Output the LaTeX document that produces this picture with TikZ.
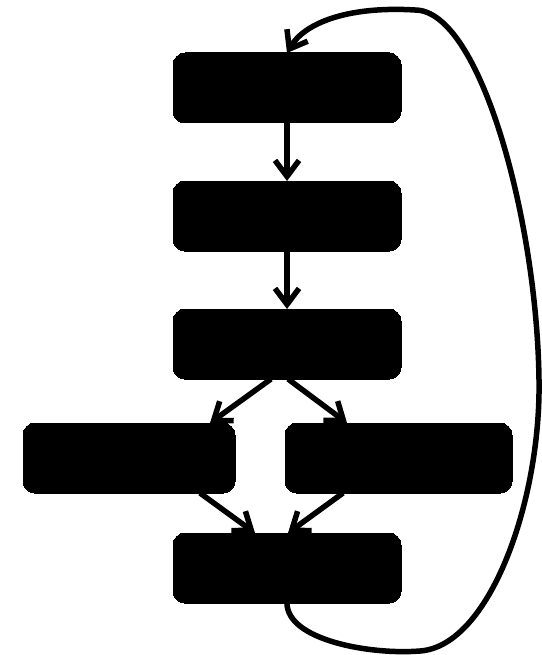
\documentclass[tikz,border=0pt]{standalone}
\usetikzlibrary{arrows.meta}
\begin{document}
\begin{tikzpicture}[x=1pt,y=-1pt,
  box/.style={draw=black,fill=black,rounded corners=12pt,inner sep=0pt,minimum height=70pt,line width=0pt},
  conn/.style={line width=5.5pt,-{Straight Barb[length=16pt,width=24pt,line width=5.5pt]}}]
\useasboundingbox (0,0) rectangle (541,655);
\node[box,minimum width=228pt] (b1) at (287,88) {};
\node[box,minimum width=228pt] (b2) at (287,216) {};
\node[box,minimum width=228pt] (b3) at (287,344) {};
\node[box,minimum width=212pt] (b4) at (129,458) {};
\node[box,minimum width=227pt] (b5) at (398.5,458) {};
\node[box,minimum width=228pt] (b6) at (287,568) {};
\draw[conn] (b1.south) -- (b2.north);
\draw[conn] (b2.south) -- (b3.north);
\draw[conn] ([xshift=-16pt]b3.south) -- ([xshift=81pt]b4.north);
\draw[conn] ([xshift=1pt]b3.south) -- ([xshift=-51.5pt]b5.north);
\draw[conn] ([xshift=71pt]b4.south) -- ([xshift=-32pt]b6.north);
\draw[conn] ([xshift=-55.5pt]b5.south) -- ([xshift=1pt]b6.north);
\coordinate (lb) at (420,651);
\coordinate (lr) at (539,380);
\coordinate (lt) at (415,10);
\draw[conn] (b6.south) .. controls (287,640) and (370,655) .. (lb)
  .. controls (490,646) and (541,500) .. (lr)
  .. controls (537,220) and (480,10) .. (lt)
  .. controls (350,6) and (305,22) .. (b1.north);
\end{tikzpicture}
\end{document}
